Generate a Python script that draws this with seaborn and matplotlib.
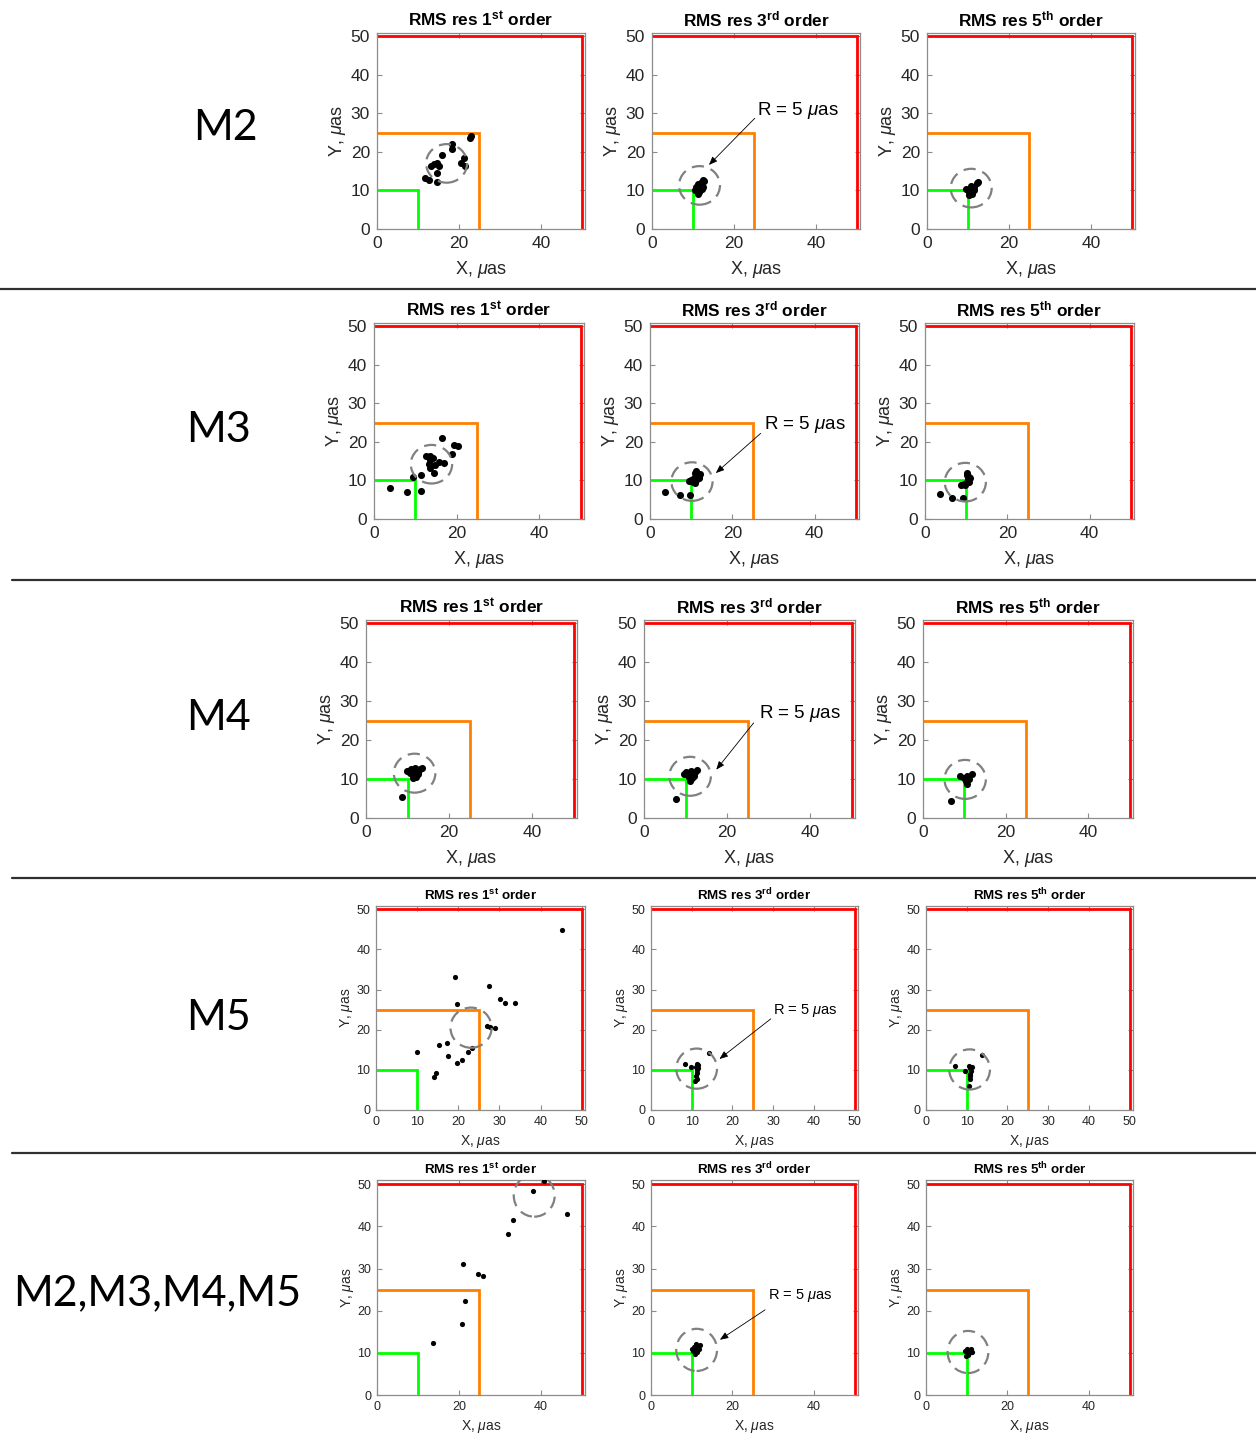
import matplotlib
matplotlib.use("Agg")
import matplotlib.pyplot as plt
from matplotlib.lines import Line2D
from matplotlib.patches import Circle
import seaborn as sns

# ---- data (units: micro-arcsec) ----
rows = ["M2", "M3", "M4", "M5", "M2,M3,M4,M5"]
orders = ["1", "3", "5"]
order_sup = ["st", "rd", "th"]
box_sizes = [10, 25, 50]
box_colors = ["#00ff00", "#ff8000", "#ff0000"]
circle_radius = 5

# M2
m2_o1_x = [23.0, 22.8, 18.3, 18.4, 15.9, 20.5, 21.6, 13.2, 13.8, 14.7, 15.2, 14.7, 11.8, 12.7, 14.7, 21.2]
m2_o1_y = [24.2, 23.5, 22.0, 20.7, 19.3, 17.0, 16.4, 16.4, 16.8, 17.0, 16.4, 14.5, 13.2, 12.7, 12.3, 18.5]
m2_o3_x = [11.0, 11.5, 12.0, 12.3, 11.8, 11.3, 12.5, 10.8, 12.8, 11.6, 12.1, 10.5, 11.9, 12.4, 11.2]
m2_o3_y = [10.5, 11.2, 12.0, 11.5, 10.0, 9.2, 10.8, 11.0, 12.4, 9.6, 10.3, 10.2, 11.8, 12.6, 11.6]
m2_o5_x = [10.0, 10.5, 11.0, 11.5, 12.2, 10.3, 11.0, 10.8, 9.6, 11.6, 12.5, 10.2]
m2_o5_y = [10.0, 9.5, 10.5, 11.0, 12.0, 8.8, 9.2, 11.2, 10.3, 10.0, 12.3, 9.7]
# M3
m3_o1_x = [3.9, 8.0, 11.3, 9.5, 11.3, 12.6, 13.6, 13.6, 13.4, 13.6, 14.6, 14.8, 15.8, 17.0, 16.5, 18.9, 19.4, 20.4, 14.2]
m3_o1_y = [8.1, 7.0, 7.2, 10.8, 11.3, 16.4, 16.4, 15.3, 14.3, 13.2, 12.0, 14.0, 14.9, 14.6, 21.1, 16.8, 19.2, 18.9, 15.8]
m3_o3_x = [3.7, 7.2, 9.8, 10.0, 10.8, 11.0, 11.3, 11.8, 11.2, 10.5, 12.0, 11.5, 9.5, 11.0, 12.2]
m3_o3_y = [7.1, 6.2, 6.2, 10.0, 10.6, 11.8, 12.5, 11.0, 10.2, 9.6, 10.5, 11.4, 9.8, 9.3, 11.7]
m3_o5_x = [3.7, 6.5, 9.2, 8.8, 9.5, 10.2, 10.5, 10.8, 10.3, 11.0, 10.6, 9.8, 10.1]
m3_o5_y = [6.4, 5.4, 5.4, 8.9, 9.2, 9.6, 10.3, 11.0, 12.0, 10.5, 9.5, 8.7, 11.5]
# M4
m4_o1_x = [8.6, 9.8, 10.5, 11.0, 11.5, 12.0, 12.5, 13.0, 13.5, 12.2, 11.8, 10.8, 11.4, 12.6]
m4_o1_y = [5.3, 12.0, 11.5, 12.3, 11.0, 10.5, 11.8, 12.5, 12.8, 12.0, 12.8, 12.6, 10.2, 11.2]
m4_o3_x = [7.7, 9.6, 10.2, 10.8, 11.3, 11.8, 12.3, 12.8, 11.0, 11.6, 12.1, 10.5]
m4_o3_y = [5.0, 11.2, 11.8, 10.6, 12.0, 11.2, 11.9, 12.2, 9.6, 10.2, 10.9, 11.0]
m4_o5_x = [6.8, 9.0, 9.8, 10.6, 10.6, 11.9, 11.2, 10.3]
m4_o5_y = [4.4, 10.9, 10.3, 10.7, 8.7, 11.4, 9.9, 9.6]
# M5
m5_o1_x = [45.1, 19.2, 27.4, 19.8, 30.1, 31.3, 33.8, 27.0, 27.6, 28.9, 10.0, 15.2, 17.2, 17.6, 23.3, 22.3, 21.0, 19.8, 14.5, 14.1]
m5_o1_y = [44.7, 33.1, 30.9, 26.3, 27.7, 26.6, 26.6, 20.9, 20.6, 20.5, 14.5, 16.1, 16.8, 13.4, 15.5, 14.4, 12.5, 11.6, 9.3, 8.1]
m5_o3_x = [8.4, 9.9, 11.2, 11.0, 11.3, 11.2, 11.0, 11.3, 10.9, 11.6, 11.5, 14.2]
m5_o3_y = [11.5, 10.7, 11.5, 10.8, 10.0, 9.2, 8.5, 7.8, 7.2, 11.2, 10.4, 14.1]
m5_o5_x = [7.1, 9.5, 10.5, 10.8, 11.0, 10.9, 10.7, 10.8, 10.5, 11.3, 13.8]
m5_o5_y = [10.9, 9.7, 11.0, 10.5, 9.8, 9.0, 8.4, 7.6, 6.0, 10.8, 13.6]
# M2,M3,M4,M5
all_o1_x = [40.9, 38.2, 46.4, 33.3, 32.0, 21.0, 24.6, 25.8, 21.4, 20.8, 13.6]
all_o1_y = [50.8, 48.4, 42.9, 41.5, 38.1, 31.0, 28.7, 28.2, 22.3, 16.9, 12.3]
all_o3_x = [10.0, 10.5, 11.0, 11.5, 11.8, 11.2, 10.8, 11.4, 10.2, 12.0]
all_o3_y = [11.0, 11.5, 12.0, 11.6, 10.8, 10.2, 9.8, 11.0, 10.4, 11.8]
all_o5_x = [9.6, 10.0, 10.4, 10.8, 11.2, 10.2, 9.8, 10.6, 11.0]
all_o5_y = [10.5, 10.8, 10.2, 10.6, 10.3, 9.6, 9.2, 9.9, 10.9]

# dashed R = 5 circle centres, per row (1st, 3rd, 5th order)
circle_x = [[17.0, 11.6, 10.8], [13.9, 10.2, 9.8], [11.7, 11.1, 10.2], [23.1, 11.2, 10.7], [38.4, 11.2, 10.3]]
circle_y = [[17.0, 11.3, 10.6], [14.2, 9.7, 9.55], [11.5, 10.7, 9.9], [20.5, 10.3, 10.1], [47.3, 10.7, 10.2]]

# "R = 5 uas" note: text anchor and arrow start/end, per row (3rd order panel)
note_xy = [(25.7, 30.8), (27.6, 24.4), (27.6, 26.9), (30.0, 24.8), (28.7, 23.6)]
arrow_from = [(25.1, 28.7), (26.9, 22.2), (26.4, 24.4), (29.4, 22.7), (28.0, 20.2)]
arrow_to = [(13.9, 16.6), (16.0, 11.9), (17.4, 12.4), (16.8, 12.7), (16.9, 13.1)]

points = [
    [(m2_o1_x, m2_o1_y), (m2_o3_x, m2_o3_y), (m2_o5_x, m2_o5_y)],
    [(m3_o1_x, m3_o1_y), (m3_o3_x, m3_o3_y), (m3_o5_x, m3_o5_y)],
    [(m4_o1_x, m4_o1_y), (m4_o3_x, m4_o3_y), (m4_o5_x, m4_o5_y)],
    [(m5_o1_x, m5_o1_y), (m5_o3_x, m5_o3_y), (m5_o5_x, m5_o5_y)],
    [(all_o1_x, all_o1_y), (all_o3_x, all_o3_y), (all_o5_x, all_o5_y)],
]

# ---- layout (pixels in a 1256x1438 canvas) ----
W, H = 1256, 1438
axes_px = [
    [(377, 585, 33, 229), (652, 860, 33, 229), (927, 1135, 33, 229)],
    [(374, 584, 323, 519), (650, 859, 323, 519), (925, 1134, 323, 519)],
    [(366, 577, 620, 818), (644, 855, 620, 818), (923, 1133, 620, 818)],
    [(376, 585, 906, 1110), (651, 858, 906, 1110), (926, 1133, 906, 1110)],
    [(377, 585, 1180, 1395), (651, 858, 1180, 1395), (926, 1133, 1180, 1395)],
]
label_pos = [(225, 128), (218, 430), (218, 718), (218, 1018), (157, 1293)]
sep_lines = [(0, 289), (12, 580), (12, 878), (12, 1153)]
small_rows = [3, 4]
ten_step_rows = [3]

sns.set_style("ticks")
plt.rcParams["font.family"] = ["Liberation Sans", "DejaVu Sans"]
plt.rcParams["mathtext.fontset"] = "custom"
plt.rcParams["mathtext.rm"] = "Liberation Sans"
plt.rcParams["mathtext.it"] = "Liberation Sans:italic"
plt.rcParams["mathtext.bf"] = "Liberation Sans:bold"

FRAME = "#8c8c8c"
TXT = "#262626"

fig = plt.figure(figsize=(W / 100, H / 100), dpi=100)


def px_axes(left, right, top, bottom):
    return fig.add_axes([left / W, 1 - bottom / H, (right - left) / W, (bottom - top) / H])


for r, row_name in enumerate(rows):
    small = r in small_rows
    tick_fs = 9 if small else 12.5
    lab_fs = 10 if small else 13
    title_fs = 9.6 if small else 12.4
    note_fs = 10.5 if small else 13.5
    dot_s = 14 if small else 26
    tick_pad = 4 if small else 5
    xlab_pad = 4 if small else 6
    ylab_pad = 1 if small else 2
    title_pad = 4 if small else 5
    top = 51.0 if r == 4 else 50.8

    for c in range(3):
        ax = px_axes(*axes_px[r][c])
        for size, col in zip(box_sizes, box_colors):
            ax.plot([0, size, size], [size, size, 0], color=col, lw=2.0, solid_joinstyle="miter")

        xs, ys = points[r][c]
        sns.scatterplot(x=xs, y=ys, ax=ax, color="black", s=dot_s, linewidth=0, zorder=4)

        ax.add_patch(Circle((circle_x[r][c], circle_y[r][c]), circle_radius, fill=False,
                            ec="#808080", lw=1.6, ls=(0, (5.5, 3.2)), zorder=5))

        if c == 1:
            ax.text(note_xy[r][0], note_xy[r][1], r"R = 5 $\mu$as", fontsize=note_fs,
                    color="black", va="center", ha="left")
            ax.annotate("", xy=arrow_to[r], xytext=arrow_from[r],
                        arrowprops=dict(arrowstyle="-|>,head_length=0.5,head_width=0.2",
                                        color="black", lw=0.6, shrinkA=0, shrinkB=0))

        ax.set_xlim(0, 50.8)
        ax.set_ylim(0, top)
        step = 10 if r in ten_step_rows else 20
        ax.set_xticks(list(range(0, 51, step)))
        ax.set_yticks(list(range(0, 51, 10)))
        ax.tick_params(direction="in", length=3.5, width=0.8, color=FRAME, labelcolor=TXT,
                       labelsize=tick_fs, top=True, right=True, pad=tick_pad)
        for sp in ax.spines.values():
            sp.set_color(FRAME)
            sp.set_linewidth(0.9)
        ax.set_xlabel(r"X, $\mu$as", fontsize=lab_fs, color=TXT, labelpad=xlab_pad)
        ax.set_ylabel(r"Y, $\mu$as", fontsize=lab_fs, color=TXT, labelpad=ylab_pad)
        ax.set_title(r"RMS res " + orders[c] + r"$^{\mathbf{" + order_sup[c] + r"}}$ order",
                     fontsize=title_fs, fontweight="bold", color="black", pad=title_pad)

    fig.text(label_pos[r][0] / W, 1 - label_pos[r][1] / H, row_name, fontsize=31,
             family=["Lato", "DejaVu Sans"], ha="center", va="center", color="black")

for x0, y in sep_lines:
    fig.add_artist(Line2D([x0 / W, 1.0], [1 - y / H, 1 - y / H], color="#303030", lw=1.6))

fig.savefig("out.png", dpi=100, facecolor="white")
